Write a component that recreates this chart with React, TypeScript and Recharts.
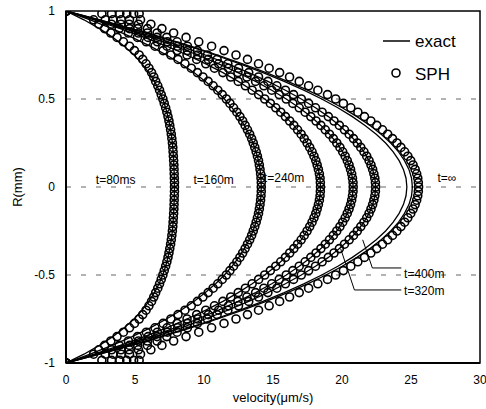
import {
  Legend,
  ReferenceArea,
  ReferenceDot,
  ReferenceLine,
  Scatter,
  ScatterChart,
  XAxis,
  YAxis,
} from "recharts";

const FONT = '"Liberation Sans", Arial, Helvetica, sans-serif';

// radial positions of the SPH particles (upper half, mirrored below)
const rSph = [
  0, 0.025, 0.05, 0.075, 0.1, 0.125, 0.15, 0.175, 0.2, 0.225, 0.25, 0.275, 0.3, 0.325, 0.35, 0.375, 0.4, 0.425,
  0.45, 0.475, 0.5, 0.525, 0.55, 0.575, 0.6, 0.625, 0.65, 0.675, 0.7, 0.725, 0.75, 0.775, 0.8, 0.825, 0.85,
  0.875, 0.9, 0.925, 0.95, 0.985, 1,
];

// SPH velocities (µm/s)
const sph80 = [
  7.86, 7.86, 7.85, 7.84, 7.83, 7.82, 7.8, 7.78, 7.76, 7.74, 7.71, 7.67, 7.63, 7.58, 7.52, 7.46, 7.39, 7.31, 7.22,
  7.12, 7.02, 6.9, 6.78, 6.65, 6.5, 6.36, 6.2, 6.01, 5.8, 5.56, 5.3, 4.96, 4.6, 4.16, 3.7, 3.25, 2.8, 2.38, 2.0,
  2.6, 0,
];
const sph160 = [
  14.15, 14.15, 14.13, 14.1, 14.06, 14.01, 13.95, 13.87, 13.78, 13.68, 13.57, 13.45, 13.31, 13.15, 12.98, 12.8,
  12.6, 12.38, 12.14, 11.88, 11.62, 11.32, 11.0, 10.66, 10.3, 9.92, 9.52, 9.08, 8.62, 8.12, 7.6, 7.04, 6.45, 5.82,
  5.18, 4.52, 3.85, 3.3, 2.85, 3.3, 0,
];
const sph240 = [
  18.44, 18.43, 18.41, 18.36, 18.29, 18.2, 18.1, 17.97, 17.83, 17.66, 17.47, 17.26, 17.04, 16.78, 16.51, 16.21,
  15.9, 15.56, 15.2, 14.81, 14.4, 13.96, 13.49, 13.0, 12.48, 11.94, 11.37, 10.76, 10.13, 9.47, 8.77, 8.05, 7.32,
  6.62, 5.95, 5.25, 4.6, 3.98, 3.4, 3.9, 0,
];
const sph320 = [
  20.81, 20.8, 20.76, 20.7, 20.62, 20.51, 20.38, 20.23, 20.05, 19.85, 19.62, 19.37, 19.09, 18.79, 18.47, 18.12,
  17.74, 17.33, 16.9, 16.44, 15.96, 15.45, 14.91, 14.34, 13.74, 13.11, 12.46, 11.77, 11.06, 10.31, 9.56, 8.8, 8.1,
  7.35, 6.6, 5.9, 5.2, 4.58, 4.0, 4.4, 0,
];
const sph400 = [
  22.44, 22.42, 22.38, 22.31, 22.22, 22.1, 21.96, 21.79, 21.59, 21.36, 21.11, 20.83, 20.52, 20.18, 19.81, 19.42,
  19.01, 18.56, 18.08, 17.58, 17.05, 16.49, 15.9, 15.28, 14.63, 13.95, 13.24, 12.5, 11.73, 10.95, 10.25, 9.52, 8.8,
  8.05, 7.3, 6.6, 5.9, 5.25, 4.6, 4.9, 0,
];
const sphInf = [
  25.55, 25.53, 25.49, 25.41, 25.3, 25.15, 24.98, 24.77, 24.54, 24.27, 23.98, 23.66, 23.31, 22.93, 22.52, 22.09,
  21.63, 21.15, 20.64, 20.1, 19.54, 18.95, 18.25, 17.58, 16.9, 16.2, 15.48, 14.72, 13.95, 13.15, 12.32, 11.45,
  10.55, 9.62, 8.7, 7.8, 6.95, 6.15, 5.4, 5.3, 0,
];

// exact solution, upper half
const rExact = [0, 0.05, 0.1, 0.15, 0.2, 0.25, 0.3, 0.35, 0.4, 0.45, 0.5, 0.55, 0.6, 0.65, 0.7, 0.75, 0.8, 0.85, 0.9, 0.95, 1];
const exact80 = [7.86, 7.85, 7.83, 7.8, 7.76, 7.71, 7.63, 7.52, 7.39, 7.22, 7.01, 6.74, 6.41, 6.0, 5.52, 4.93, 4.22, 3.39, 2.42, 1.3, 0];
const exact160 = [14.15, 14.13, 14.06, 13.95, 13.77, 13.55, 13.27, 12.92, 12.52, 12.04, 11.48, 10.84, 10.1, 9.27, 8.33, 7.28, 6.1, 4.79, 3.34, 1.75, 0];
const exact240 = [18.44, 18.41, 18.29, 18.1, 17.83, 17.47, 17.04, 16.51, 15.9, 15.2, 14.4, 13.49, 12.48, 11.37, 10.13, 8.77, 7.29, 5.68, 3.93, 2.04, 0];
const exact320 = [20.81, 20.76, 20.62, 20.38, 20.05, 19.62, 19.09, 18.47, 17.74, 16.9, 15.96, 14.91, 13.74, 12.46, 11.06, 9.54, 7.9, 6.12, 4.22, 2.18, 0];
const exact400 = [22.44, 22.38, 22.22, 21.96, 21.59, 21.11, 20.52, 19.81, 19.01, 18.08, 17.05, 15.9, 14.63, 13.24, 11.73, 10.09, 8.33, 6.44, 4.43, 2.28, 0];
const exactA = [24.7, 24.64, 24.45, 24.14, 23.71, 23.16, 22.48, 21.67, 20.75, 19.7, 18.53, 17.23, 15.81, 14.27, 12.6, 10.81, 8.89, 6.86, 4.69, 2.41, 0];
const exactInf = [25.1, 25.04, 24.85, 24.53, 24.1, 23.53, 22.84, 22.03, 21.08, 20.02, 18.83, 17.51, 16.06, 14.5, 12.8, 10.98, 9.04, 6.96, 4.77, 2.45, 0];

const xTicks = [0, 5, 10, 15, 20, 25, 30];
const yTicks = [-1, -0.5, 0, 0.5, 1];
const gridLevels = [0.5, 0, -0.5];

// time labels: [text, velocity, R, anchor]
const timeLabels: Array<[string, number, number, "middle" | "start"]> = [
  ["t=80ms", 3.6, 0.04, "middle"],
  ["t=160m", 10.7, 0.04, "middle"],
  ["t=240m", 15.8, 0.05, "middle"],
  ["t=∞", 27.6, 0.05, "middle"],
  ["t=400m", 24.5, -0.49, "start"],
  ["t=320m", 24.5, -0.59, "start"],
];

// leader lines from labels to profiles
const leader400 = [
  { x: 21.5, y: -0.3 },
  { x: 22.2, y: -0.46 },
  { x: 24.3, y: -0.46 },
];
const leader320 = [
  { x: 19.9, y: -0.35 },
  { x: 20.9, y: -0.585 },
  { x: 24.3, y: -0.585 },
];

type Pt = { v: number; r: number };

const fullProfile = (rs: number[], vs: number[]): Pt[] => {
  const lower = rs.map((r, i) => ({ v: vs[i], r: -r })).reverse();
  const upper = rs.slice(1).map((r, i) => ({ v: vs[i + 1], r }));
  return [...lower, ...upper];
};

const sphSets = [sph80, sph160, sph240, sph320, sph400, sphInf].map((vs) => fullProfile(rSph, vs));
const exactSets = [exact80, exact160, exact240, exact320, exact400, exactA, exactInf].map((vs) => fullProfile(rExact, vs));

const OpenCircle = (props: { cx?: number; cy?: number }) => (
  <circle cx={props.cx} cy={props.cy} r={4} fill="none" stroke="#000" strokeWidth={1.6} />
);
const NoDot = () => <g />;

const LegendBox = () => (
  <svg width={110} height={62} style={{ display: "block" }}>
    <line x1={13} x2={40} y1={16} y2={16} stroke="#000" strokeWidth={1.5} />
    <text x={45} y={16} dy="0.35em" fontSize={17} fontFamily={FONT} fill="#000">
      exact
    </text>
    <circle cx={26} cy={48} r={4} fill="none" stroke="#000" strokeWidth={1.6} />
    <text x={45} y={49} dy="0.35em" fontSize={17} fontFamily={FONT} fill="#000">
      SPH
    </text>
  </svg>
);

export default function App() {
  return (
    <div style={{ position: "absolute", left: 0, top: 0, width: 486, height: 409, background: "#fff" }}>
      <ScatterChart width={486} height={409} margin={{ top: 11, right: 6, bottom: 4, left: 12 }}>
        <XAxis
          type="number"
          dataKey="v"
          domain={[0, 30]}
          ticks={xTicks}
          allowDataOverflow
          height={42}
          tickLine={false}
          tickMargin={6}
          axisLine={{ stroke: "#000", strokeWidth: 2 }}
          tick={{ fill: "#000", fontSize: 12, fontFamily: FONT }}
          label={{ value: "velocity(μm/s)", position: "insideBottom", offset: 3, fill: "#000", fontSize: 13, fontFamily: FONT }}
        />
        <YAxis
          type="number"
          dataKey="r"
          domain={[-1, 1]}
          ticks={yTicks}
          allowDataOverflow
          width={54}
          tickLine={false}
          tickMargin={5}
          axisLine={{ stroke: "#000", strokeWidth: 2 }}
          tick={{ fill: "#000", fontSize: 12, fontFamily: FONT }}
          label={{
            value: "R(mm)",
            angle: -90,
            position: "insideLeft",
            offset: 5,
            fill: "#000",
            fontSize: 13,
            fontFamily: FONT,
            style: { textAnchor: "middle" },
          }}
        />
        {gridLevels.map((y) => (
          <ReferenceLine key={y} y={y} stroke="#666" strokeWidth={1} strokeDasharray="5 10" />
        ))}
        <ReferenceArea x1={0} x2={30} y1={-1} y2={1} fill="none" stroke="#000" strokeWidth={1.5} fillOpacity={0} />
        {exactSets.map((d, i) => (
          <Scatter
            key={`e${i}`}
            data={d}
            line={{ stroke: "#000", strokeWidth: 1.3 }}
            shape={NoDot}
            isAnimationActive={false}
          />
        ))}
        {sphSets.map((d, i) => (
          <Scatter key={`s${i}`} data={d} shape={OpenCircle} isAnimationActive={false} />
        ))}
        <ReferenceLine segment={[leader400[0], leader400[1]]} stroke="#000" strokeWidth={1} />
        <ReferenceLine segment={[leader400[1], leader400[2]]} stroke="#000" strokeWidth={1} />
        <ReferenceLine segment={[leader320[0], leader320[1]]} stroke="#000" strokeWidth={1} />
        <ReferenceLine segment={[leader320[1], leader320[2]]} stroke="#000" strokeWidth={1} />
        {timeLabels.map(([text, x, y, anchor]) => (
          <ReferenceDot
            key={text}
            x={x}
            y={y}
            r={0}
            fill="none"
            stroke="none"
            label={{
              value: text,
              position: anchor === "start" ? "right" : "center",
              offset: 0,
              fill: "#000",
              fontSize: 12,
              fontFamily: FONT,
            }}
          />
        ))}
        <Legend
          layout="vertical"
          align="center"
          verticalAlign="middle"
          wrapperStyle={{ left: 370, top: 25, width: 110 }}
          content={() => <LegendBox />}
        />
      </ScatterChart>
    </div>
  );
}
